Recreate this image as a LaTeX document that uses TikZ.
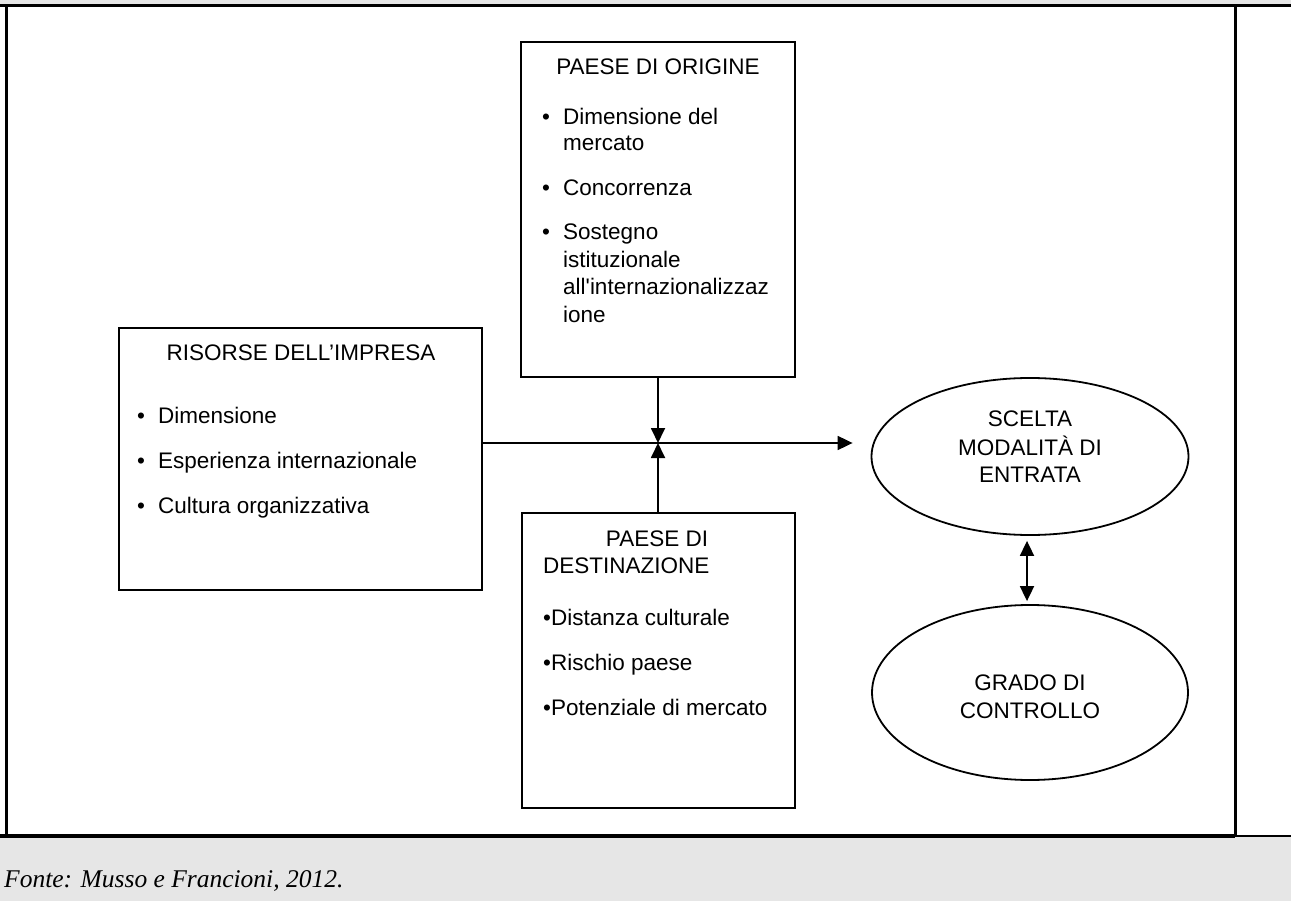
\documentclass[tikz,border=0pt]{standalone}
\usepackage{fontspec}
\setmainfont{Liberation Sans}[Ligatures=TeXOff]
\newfontfamily\sourcefont{Liberation Serif}
\usetikzlibrary{shapes.geometric,arrows.meta}
\definecolor{bandgray}{HTML}{E6E6E6}
\begin{document}
\begin{tikzpicture}[x=1pt,y=-1pt,
  box/.style={draw,line width=1.8pt,rectangle,inner sep=0pt},
  oval/.style={draw,line width=1.8pt,ellipse,inner sep=0pt},
  txt/.style={inner sep=0pt,font=\fontsize{22.5}{27}\selectfont},
  ltxt/.style={txt,anchor=base west},
  ctxt/.style={txt,anchor=base},
  bul/.style={txt,anchor=base},
  arr/.style={line width=1.8pt,-{Triangle[length=15pt,width=14pt]}},
  darr/.style={line width=1.8pt,{Triangle[length=15pt,width=14pt]}-{Triangle[length=15pt,width=14pt]}},
  frame/.style={line width=3pt}]
\useasboundingbox (0,0) rectangle (1291,901);

% page bands and frame
\fill[bandgray] (0,0) rectangle (1291,5);
\fill[bandgray] (0,837) rectangle (1291,901);
\draw[frame] (0,6) -- (1291,6);
\draw[frame] (6.5,6) -- (6.5,836);
\draw[frame] (1235,6) -- (1235,836);
\draw[line width=4pt] (0,836) -- (1235,836);
\draw[line width=1.5pt] (1235,836) -- (1291,836);
\node[anchor=base west,inner sep=0pt,font=\sourcefont\itshape\fontsize{25.5}{30}\selectfont] (fonte) at (4,887) {Fonte: Musso e Francioni, 2012.};

% boxes
\node[box,minimum width=274pt,minimum height=335pt] (orig) at (658,209.5) {};
\node[box,minimum width=363pt,minimum height=262pt] (ris) at (300.5,459) {};
\node[box,minimum width=273pt,minimum height=295pt] (dest) at (658.5,660.5) {};
\node[oval,minimum width=317pt,minimum height=157pt] (scelta) at (1030,456.5) {};
\node[oval,minimum width=316pt,minimum height=175pt] (grado) at (1030,692.5) {};

% PAESE DI ORIGINE
\node[ctxt] (origt) at (658,75) {PAESE DI ORIGINE};
\node[bul] (ob1) at (546,125) {•};
\node[ltxt] (o1a) at (563,125) {Dimensione del};
\node[ltxt] (o1b) at (563,151) {mercato};
\node[bul] (ob2) at (546,196) {•};
\node[ltxt] (o2) at (563,196) {Concorrenza};
\node[bul] (ob3) at (546,240) {•};
\node[ltxt] (o3a) at (563,240) {Sostegno};
\node[ltxt] (o3b) at (563,268) {istituzionale};
\node[ltxt] (o3c) at (563,295) {all'internazionalizzaz};
\node[ltxt] (o3d) at (563,323) {ione};

% RISORSE DELL'IMPRESA
\node[ctxt] (rist) at (301,360) {RISORSE DELL’IMPRESA};
\node[bul] (rb1) at (141,423) {•};
\node[ltxt] (r1) at (158,423) {Dimensione};
\node[bul] (rb2) at (141,468) {•};
\node[ltxt] (r2) at (158,468) {Esperienza internazionale};
\node[bul] (rb3) at (141,513) {•};
\node[ltxt] (r3) at (158,513) {Cultura organizzativa};

% PAESE DI DESTINAZIONE
\node[ctxt] (destt1) at (657,546) {PAESE DI};
\node[ltxt] (destt2) at (543,573) {DESTINAZIONE};
\node[ltxt] (d1) at (543,625) {•Distanza culturale};
\node[ltxt] (d2) at (543,670) {•Rischio paese};
\node[ltxt] (d3) at (543,715) {•Potenziale di mercato};

% ellipse labels
\node[ctxt] (s1) at (1030,426) {SCELTA};
\node[ctxt] (s2) at (1030,455) {MODALITÀ DI};
\node[ctxt] (s3) at (1030,482) {ENTRATA};
\node[ctxt] (g1) at (1030,690) {GRADO DI};
\node[ctxt] (g2) at (1030,718) {CONTROLLO};

% connectors
\coordinate (j) at (658,443);
\draw[arr] (orig.south -| j) -- (j);
\draw[arr] (dest.north -| j) -- (j);
\draw[arr] (ris.east |- j) -- ([xshift=-18pt]scelta.west |- j);
\draw[darr] ([yshift=-5pt]scelta.south -| 1027,0) -- ([yshift=3pt]grado.north -| 1027,0);
\end{tikzpicture}
\end{document}
